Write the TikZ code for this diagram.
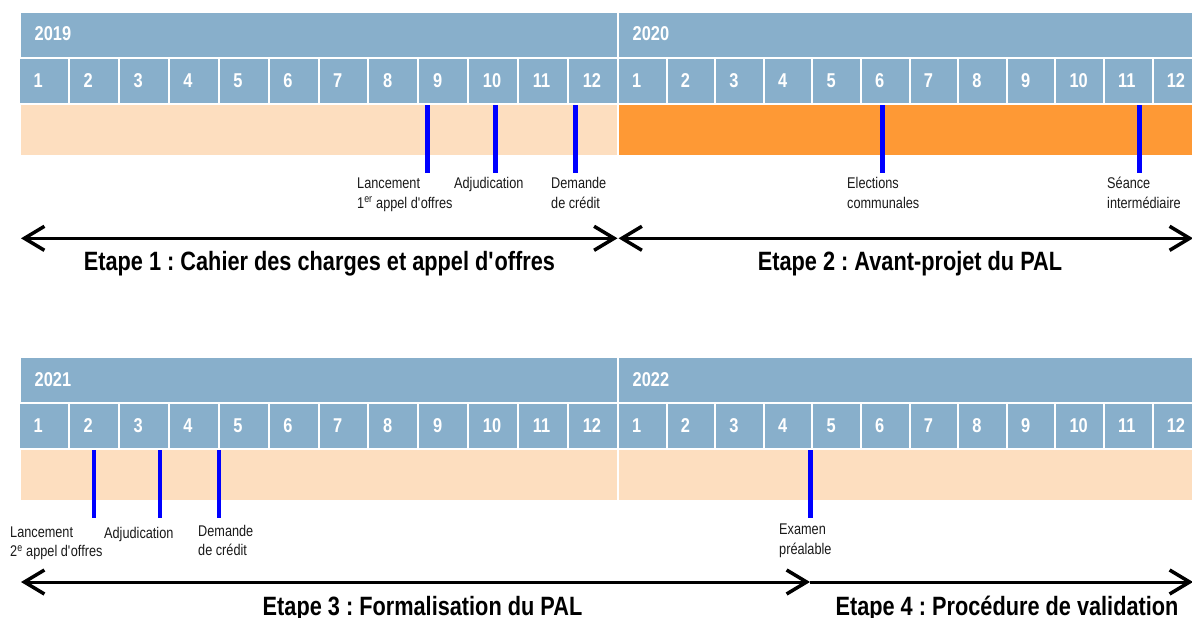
\documentclass[tikz,border=0pt]{standalone}
\usepackage{fontspec}
\setmainfont{Liberation Sans}[FakeStretch=0.82]
\usetikzlibrary{arrows.meta}
\definecolor{hdr}{RGB}{136,175,203}
\definecolor{peach}{RGB}{253,222,191}
\definecolor{orng}{RGB}{254,153,53}
\definecolor{evblue}{RGB}{0,0,255}
\definecolor{lbl}{RGB}{25,25,25}
\newcommand{\sq}{\textquotesingle}
\tikzset{
  yrtxt/.style={anchor=base west,inner sep=0pt,text=white,font=\fontsize{20}{24}\selectfont\bfseries},
  mnum/.style={anchor=base west,inner sep=0pt,text=white,font=\fontsize{20}{24}\selectfont\bfseries},
  lab/.style={anchor=base west,inner sep=0pt,text=lbl,font=\fontsize{15.5}{19}\selectfont},
  ttl/.style={anchor=base,inner sep=0pt,text=black,font=\fontsize{26.5}{30}\selectfont\bfseries},
  evline/.style={draw=evblue,line width=4.5pt},
  phase/.style={draw=black,line width=3pt},
  >={Straight Barb[length=20pt,width=24pt,line width=3.5pt]}
}
\begin{document}
\frenchspacing
\begin{tikzpicture}[x=1pt,y=-1pt]
\clip (0,0) rectangle (1192,618);
% ---------- top section: 2019 / 2020 ----------
\fill[hdr] (21,13) rectangle (617,57);
\fill[hdr] (619,13) rectangle (1192,57);
\node[yrtxt] (y2019) at (34.5,41) {2019};
\node[yrtxt] (y2020) at (632.5,41) {2020};
\foreach \k in {1,...,12}{
  \fill[hdr] ({20+(\k-1)*49.92},59) rectangle ++(47.9,44);
  \node[mnum] (a\k) at ({33.5+(\k-1)*49.92},87.5) {\k};
  \fill[hdr] ({619+(\k-1)*48.6},59) rectangle ++(46.6,44);
  \node[mnum] (b\k) at ({632+(\k-1)*48.6},87.5) {\k};
}
\fill[peach] (21,105) rectangle (617,155);
\fill[orng] (619,105) rectangle (1192,155);
% events
\coordinate (e1t) at (427.7,105); \coordinate (e1b) at (427.7,173);
\coordinate (e2t) at (495.7,105); \coordinate (e2b) at (495.7,173);
\coordinate (e3t) at (575.3,105); \coordinate (e3b) at (575.3,173);
\coordinate (e4t) at (882.7,105); \coordinate (e4b) at (882.7,173);
\coordinate (e5t) at (1139.3,105); \coordinate (e5b) at (1139.3,173);
\foreach \i in {1,...,5}{\draw[evline] (e\i t) -- (e\i b);}
\node[lab] (l1a) at (357,188.2) {Lancement};
\node[lab] (l1b) at (357,208.2) {1\textsuperscript{er} appel d\sq offres};
\node[lab] (l2a) at (454,188.2) {Adjudication};
\node[lab] (l3a) at (551,188.2) {Demande};
\node[lab] (l3b) at (551,208.2) {de crédit};
\node[lab] (l4a) at (847,188.2) {Elections};
\node[lab] (l4b) at (847,208.2) {communales};
\node[lab] (l5a) at (1107,188.2) {Séance};
\node[lab] (l5b) at (1107,208.2) {intermédiaire};
% phase arrows
\coordinate (p1) at (21,238.3); \coordinate (p2) at (617.5,238.3);
\coordinate (p3) at (618.5,238.3); \coordinate (p4) at (1193,238.3);
\draw[phase,<->] (p1) -- (p2);
\draw[phase,<->] (p3) -- (p4);
\node[ttl] (t1) at (319.5,270.7) {Etape 1 : Cahier des charges et appel d\sq offres};
\node[ttl] (t2) at (910,270.7) {Etape 2 : Avant-projet du PAL};
% ---------- bottom section: 2021 / 2022 ----------
\fill[hdr] (21,358) rectangle (617,402);
\fill[hdr] (619,358) rectangle (1192,402);
\node[yrtxt] (y2021) at (34.5,386) {2021};
\node[yrtxt] (y2022) at (632.5,386) {2022};
\foreach \k in {1,...,12}{
  \fill[hdr] ({20+(\k-1)*49.92},404) rectangle ++(47.9,44);
  \node[mnum] (c\k) at ({33.5+(\k-1)*49.92},432.5) {\k};
  \fill[hdr] ({619+(\k-1)*48.6},404) rectangle ++(46.6,44);
  \node[mnum] (d\k) at ({632+(\k-1)*48.6},432.5) {\k};
}
\fill[peach] (21,450) rectangle (617,500);
\fill[peach] (619,450) rectangle (1192,500);
\coordinate (f1t) at (94,450); \coordinate (f1b) at (94,517.5);
\coordinate (f2t) at (160,450); \coordinate (f2b) at (160,517.5);
\coordinate (f3t) at (219,450); \coordinate (f3b) at (219,517.5);
\coordinate (f4t) at (810.5,450); \coordinate (f4b) at (810.5,517.5);
\foreach \i in {1,...,4}{\draw[evline] (f\i t) -- (f\i b);}
\node[lab] (m1a) at (10,537) {Lancement};
\node[lab] (m1b) at (10,556.5) {2\textsuperscript{e} appel d\sq offres};
\node[lab] (m2a) at (104,538) {Adjudication};
\node[lab] (m3a) at (198,536) {Demande};
\node[lab] (m3b) at (198,555.5) {de crédit};
\node[lab] (m4a) at (779,534.5) {Examen};
\node[lab] (m4b) at (779,554) {préalable};
\coordinate (q1) at (21,582); \coordinate (q2) at (810,582);
\coordinate (q3) at (810,582); \coordinate (q4) at (1193,582);
\draw[phase,<->] (q1) -- (q2);
\draw[phase,->] (q3) -- (q4);
\node[ttl] (t3) at (422.5,615) {Etape 3 : Formalisation du PAL};
\node[ttl] (t4) at (1007,615) {Etape 4 : Procédure de validation};
\end{tikzpicture}
\end{document}
